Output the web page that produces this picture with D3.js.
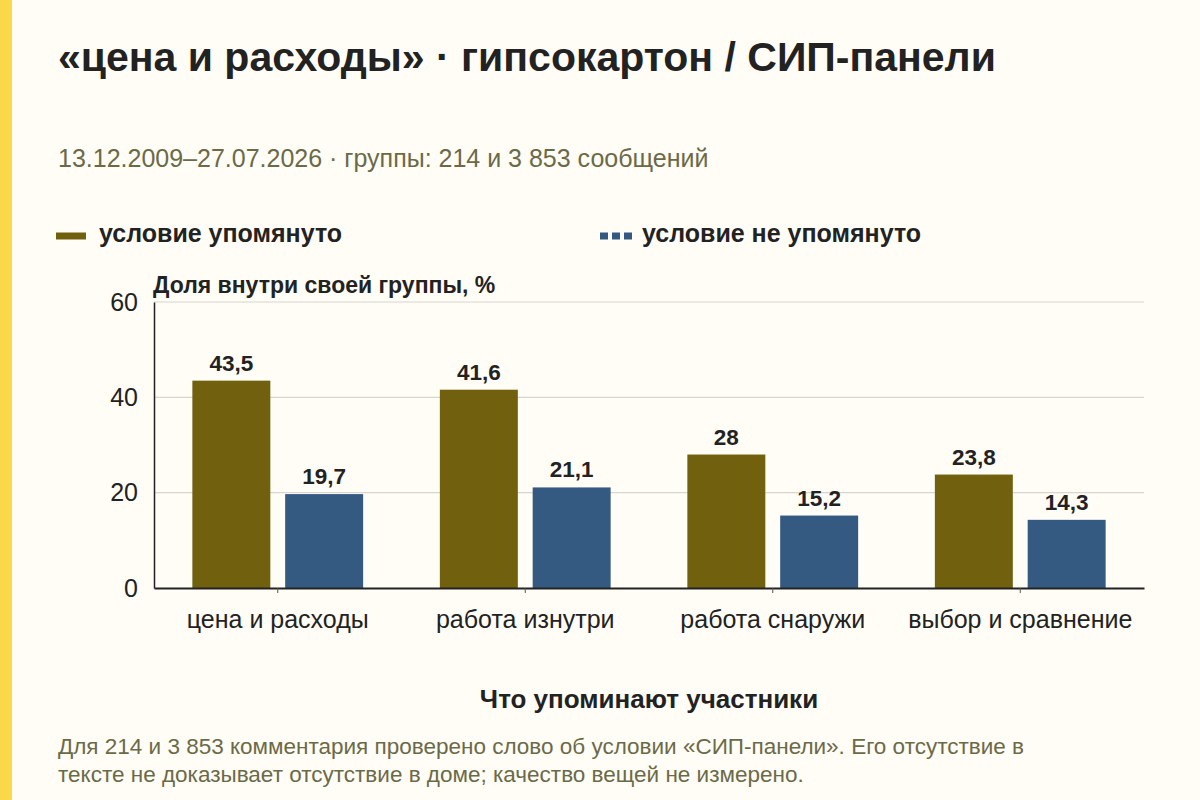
<!DOCTYPE html>
<html>
<head>
<meta charset="utf-8">
<script src="https://cdn.jsdelivr.net/npm/d3@7"></script>
<style>
  html, body { margin: 0; padding: 0; background: #fffdf6; }
  svg { display: block; font-family: "Liberation Sans", Arial, sans-serif; }
</style>
</head>
<body>
<svg id="chart" width="1200" height="800"></svg>
<script>
const width = 1200;
const height = 800;
const margin = {top: 302, right: 56, bottom: 212, left: 154};

// данные
const categories = ["цена и расходы", "работа изнутри", "работа снаружи", "выбор и сравнение"];
const seriesNames = ["условие упомянуто", "условие не упомянуто"];
const mentioned = [43.5, 41.6, 28, 23.8];
const notMentioned = [19.7, 21.1, 15.2, 14.3];
const yTicks = [0, 20, 40, 60];

const colors = ["#71600e", "#355a82"];
const textDark = "#222222";
const textMuted = "#6b6a48";

const svg = d3.select("#chart");

// фон и жёлтая полоса слева
svg.append("rect").attr("width", width).attr("height", height).attr("fill", "#fffdf6");
svg.append("rect").attr("width", 12).attr("height", height).attr("fill", "#f9d84a");

// заголовок и подзаголовок
svg.append("text")
  .attr("x", 58).attr("y", 71)
  .attr("font-size", 41).attr("font-weight", "bold")
  .attr("fill", textDark)
  .text("«цена и расходы» · гипсокартон / СИП-панели");

svg.append("text")
  .attr("x", 58).attr("y", 167)
  .attr("font-size", 25)
  .attr("fill", textMuted)
  .text("13.12.2009–27.07.2026 · группы: 214 и 3 853 сообщений");

// легенда
const legend = svg.append("g");
legend.append("line")
  .attr("x1", 56).attr("x2", 86).attr("y1", 236).attr("y2", 236)
  .attr("stroke", colors[0]).attr("stroke-width", 7);
legend.append("text")
  .attr("x", 99).attr("y", 242)
  .attr("font-size", 25).attr("font-weight", "bold").attr("fill", textDark)
  .text(seriesNames[0]);
legend.append("line")
  .attr("x1", 600).attr("x2", 632).attr("y1", 236).attr("y2", 236)
  .attr("stroke", colors[1]).attr("stroke-width", 7)
  .attr("stroke-dasharray", "8,4");
legend.append("text")
  .attr("x", 642).attr("y", 242)
  .attr("font-size", 25).attr("font-weight", "bold").attr("fill", textDark)
  .text(seriesNames[1]);

// шкалы
const x0 = d3.scaleBand()
  .domain(categories)
  .range([margin.left, width - margin.right])
  .paddingInner(0.31)
  .paddingOuter(0.155);

const x1 = d3.scaleBand()
  .domain([0, 1])
  .range([0, x0.bandwidth()])
  .paddingInner(0.16)
  .paddingOuter(0);

const y = d3.scaleLinear()
  .domain([0, 60])
  .range([height - margin.bottom, margin.top]);

// сетка
svg.append("g")
  .selectAll("line")
  .data(yTicks.filter(d => d > 0))
  .enter()
  .append("line")
  .attr("x1", margin.left).attr("x2", width - margin.right)
  .attr("y1", d => y(d)).attr("y2", d => y(d))
  .attr("stroke", "#d9d6cf").attr("stroke-width", 1.2);

// ось Y
const yAxis = svg.append("g")
  .attr("transform", `translate(${margin.left},0)`)
  .call(d3.axisLeft(y).tickValues(yTicks).tickSize(0).tickPadding(16));
yAxis.select(".domain").attr("stroke", textDark).attr("stroke-width", 1.5);
yAxis.selectAll("text").attr("font-size", 25).attr("fill", textDark)
  .attr("font-family", "'Liberation Sans', Arial, sans-serif");

svg.append("text")
  .attr("x", 153).attr("y", 293)
  .attr("font-size", 23).attr("font-weight", "bold").attr("fill", textDark)
  .text("Доля внутри своей группы, %");

// столбцы
const rows = categories.map((c, i) => ({cat: c, values: [mentioned[i], notMentioned[i]]}));

const groups = svg.append("g")
  .selectAll("g")
  .data(rows)
  .enter()
  .append("g")
  .attr("transform", d => `translate(${x0(d.cat)},0)`);

groups.selectAll("rect")
  .data(d => d.values.map((v, k) => ({k, v})))
  .enter()
  .append("rect")
  .attr("x", d => x1(d.k))
  .attr("width", x1.bandwidth())
  .attr("y", d => y(d.v))
  .attr("height", d => y(0) - y(d.v))
  .attr("fill", d => colors[d.k]);

groups.selectAll("text.val")
  .data(d => d.values.map((v, k) => ({k, v})))
  .enter()
  .append("text")
  .attr("class", "val")
  .attr("x", d => x1(d.k) + x1.bandwidth() / 2)
  .attr("y", d => y(d.v) - 10)
  .attr("text-anchor", "middle")
  .attr("font-size", 22.5).attr("font-weight", "bold").attr("fill", textDark)
  .text(d => String(d.v).replace(".", ","));

// ось X
const xAxis = svg.append("g")
  .attr("transform", `translate(0,${y(0)})`)
  .call(d3.axisBottom(x0).tickSize(5).tickPadding(17).tickSizeOuter(0));
xAxis.select(".domain").attr("stroke", textDark).attr("stroke-width", 2);
xAxis.selectAll(".tick line").attr("stroke", "#555");
xAxis.selectAll("text").attr("font-size", 25).attr("fill", textDark)
  .attr("font-family", "'Liberation Sans', Arial, sans-serif");

svg.append("text")
  .attr("x", 649).attr("y", 708)
  .attr("text-anchor", "middle")
  .attr("font-size", 26).attr("font-weight", "bold").attr("fill", textDark)
  .text("Что упоминают участники");

// примечание
const note = svg.append("text")
  .attr("x", 58).attr("y", 754)
  .attr("font-size", 22.5).attr("fill", textMuted);
note.append("tspan").attr("x", 58)
  .text("Для 214 и 3 853 комментария проверено слово об условии «СИП-панели». Его отсутствие в");
note.append("tspan").attr("x", 58).attr("dy", 28)
  .text("тексте не доказывает отсутствие в доме; качество вещей не измерено.");
</script>
</body>
</html>
